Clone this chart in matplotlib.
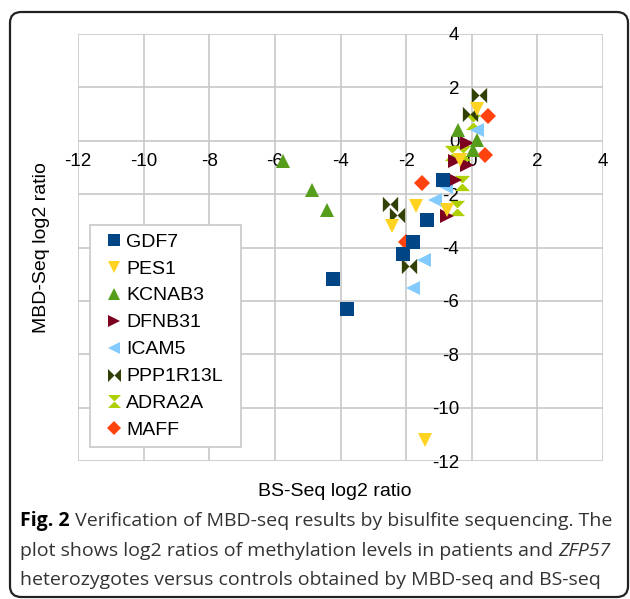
import matplotlib
matplotlib.use("Agg")
import matplotlib.pyplot as plt
import numpy as np
from matplotlib.path import Path
from matplotlib.patches import FancyBboxPatch, Rectangle
from matplotlib.lines import Line2D

plt.rcParams["axes.unicode_minus"] = False

# data (BS-Seq x, MBD-Seq y)
genes = ["GDF7", "PES1", "KCNAB3", "DFNB31", "ICAM5", "PPP1R13L", "ADRA2A", "MAFF"]
colors = ["#004586", "#ffd320", "#579d1c", "#7e0021", "#83caff", "#314004", "#aecf00", "#ff420e"]

gdf7_x = [-0.87, -1.37, -1.78, -2.10, -4.22, -3.79]
gdf7_y = [-1.46, -2.96, -3.81, -4.23, -5.18, -6.29]
pes1_x = [0.15, -0.36, -0.76, -1.70, -2.44, -1.42]
pes1_y = [1.20, -0.71, -2.58, -2.43, -3.18, -11.22]
kcnab3_x = [-0.41, 0.15, 0.05, -5.76, -4.88, -4.42]
kcnab3_y = [0.39, 0.04, -0.34, -0.77, -1.84, -2.58]
dfnb31_x = [-0.15, -0.51, -0.15, -0.51, -0.76]
dfnb31_y = [-0.09, -0.77, -0.90, -1.46, -2.83]
icam5_x = [0.15, -0.80, -1.12, -1.47, -1.78]
icam5_y = [0.39, -1.75, -2.21, -4.46, -5.52]
ppp1r13l_x = [0.23, -0.05, -2.49, -2.29, -1.90]
ppp1r13l_y = [1.72, 1.00, -2.36, -2.77, -4.71]
adra2a_x = [0.05, -0.61, -0.26, -0.30, -0.46]
adra2a_y = [0.69, -0.46, -0.46, -1.59, -2.52]
maff_x = [0.51, 0.41, -1.52, -2.00]
maff_y = [0.94, -0.52, -1.59, -3.80]

xs = [gdf7_x, pes1_x, kcnab3_x, dfnb31_x, icam5_x, ppp1r13l_x, adra2a_x, maff_x]
ys = [gdf7_y, pes1_y, kcnab3_y, dfnb31_y, icam5_y, ppp1r13l_y, adra2a_y, maff_y]

C = [Path.MOVETO, Path.LINETO, Path.LINETO, Path.CLOSEPOLY]
bowtie = Path([(-1, -1), (0, 0), (-1, 1), (-1, -1), (1, 1), (0, 0), (1, -1), (1, 1)], C + C)
hourglass = Path([(-1, 1), (0, 0), (1, 1), (-1, 1), (-1, -1), (0, 0), (1, -1), (-1, -1)], C + C)
markers = ["s", "v", "^", ">", "<", bowtie, hourglass, "D"]
sizes = [10, 10, 10, 10, 10, 11, 11, 8]

W, H = 630, 599
fig = plt.figure(figsize=(6.3, 5.99), dpi=100)
# plot area: x 78..603 px, y 34..461 px
ax = fig.add_axes([78 / W, 1 - 461 / H, 525 / W, 427 / H])

def ax_xy(px, py):
    return (px - 78) / 525, (461 - py) / 427

for i in reversed(range(len(genes))):
    ax.plot(xs[i], ys[i], ls="none", marker=markers[i], ms=sizes[i],
            color=colors[i], mew=0, zorder=2)

ax.set_xlim(-12, 4)
ax.set_ylim(-12, 4)
ax.set_xticks(np.arange(-12, 5, 2))
ax.set_yticks(np.arange(-12, 5, 2))
ax.grid(True, color="#c8c8c8", lw=1.2)
ax.set_axisbelow(True)
for s in ax.spines.values():
    s.set_color("none")
ax.spines["bottom"].set_position("zero")
ax.spines["left"].set_position("zero")
ax.tick_params(length=0, labelsize=13.5, labelcolor="black")
ax.tick_params(axis="x", pad=9)
ax.tick_params(axis="y", pad=9)
for lab in ax.get_xticklabels() + ax.get_yticklabels():
    lab.set_fontfamily("Liberation Sans")
    lab.set_zorder(5)

# legend box drawn separately (wider side padding than top/bottom)
lx0, ly0 = ax_xy(90, 447)
lx1, ly1 = ax_xy(241, 225)
ax.add_patch(Rectangle((lx0, ly0), lx1 - lx0, ly1 - ly0, transform=ax.transAxes,
                       fc="white", ec="#c8c8c8", lw=1.2, zorder=6))
handles = [Line2D([], [], ls="none", marker=markers[i], ms=sizes[i] * 0.85,
                  color=colors[i], mew=0) for i in range(len(genes))]
leg = ax.legend(handles, genes, loc="upper left", bbox_to_anchor=ax_xy(106, 233),
                borderaxespad=0, borderpad=0, frameon=False, handlelength=0.8,
                handletextpad=0.25, labelspacing=0.48,
                prop={"family": "Liberation Sans", "size": 14})
leg.set_zorder(7)

fig.text(335 / W, 1 - 491 / H, "BS-Seq log2 ratio", ha="center", va="center",
         family="Liberation Sans", fontsize=14)
fig.text(42 / W, 1 - 248 / H, "MBD-Seq log2 ratio", ha="center", va="center",
         rotation=90, family="Liberation Sans", fontsize=14)

# outer rounded border
border = FancyBboxPatch((10 / W, 2 / H), 618 / W, 585 / H,
                        boxstyle="round,pad=0,rounding_size=0.018",
                        transform=fig.transFigure, fill=False, ec="#222222", lw=1.6)
fig.patches.append(border)

# caption
cap_fs = 14.0
x0 = 20 / W
fig.canvas.draw()
r = fig.canvas.get_renderer()
t1 = fig.text(x0, 1 - 521 / H, "Fig. 2", family="Open Sans", weight="bold",
              fontsize=cap_fs, va="center")
w1 = t1.get_window_extent(r).width / fig.bbox.width
fig.text(x0 + w1, 1 - 521 / H, " Verification of MBD-seq results by bisulfite sequencing. The",
         family="Open Sans", fontsize=cap_fs, va="center", color="#333333")
t2 = fig.text(x0, 1 - 551 / H, "plot shows log2 ratios of methylation levels in patients and ",
              family="Open Sans", fontsize=cap_fs, va="center", color="#333333")
w2 = t2.get_window_extent(r).width / fig.bbox.width
fig.text(x0 + w2, 1 - 551 / H, "ZFP57", family="Open Sans", style="italic",
         fontsize=cap_fs, va="center", color="#333333")
fig.text(x0, 1 - 580 / H, "heterozygotes versus controls obtained by MBD-seq and BS-seq",
         family="Open Sans", fontsize=cap_fs, va="center", color="#333333")

fig.savefig("out.png", dpi=100)
